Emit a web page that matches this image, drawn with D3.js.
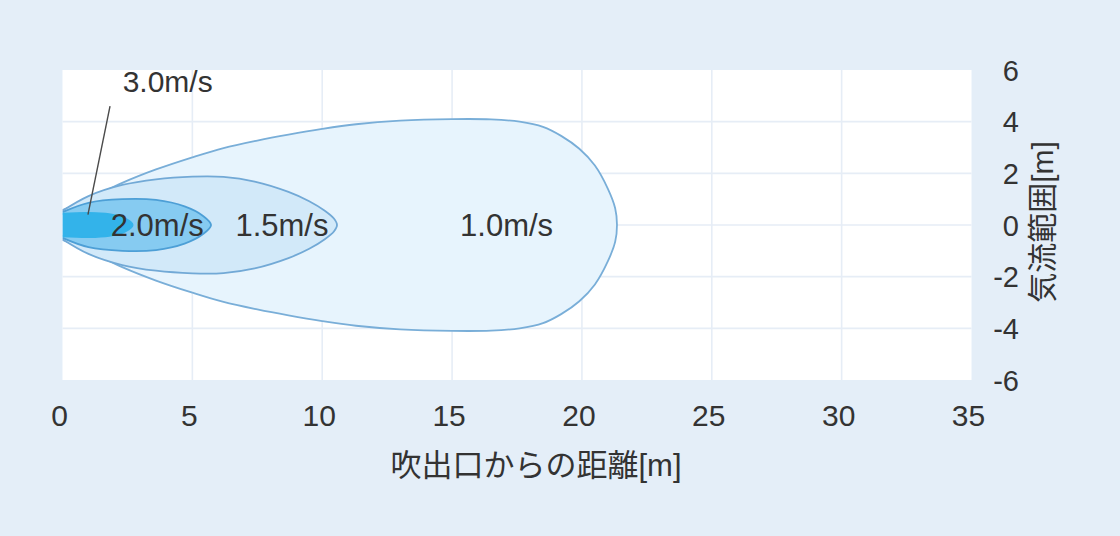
<!DOCTYPE html>
<html><head><meta charset="utf-8">
<script src="https://cdn.jsdelivr.net/npm/d3@7"></script>
<style>
html,body{margin:0;padding:0;background:#e4eef8;}
svg{display:block;}
text{font-family:"Liberation Sans","Noto Sans CJK JP",sans-serif;fill:#333333;}
</style></head>
<body>
<svg id="chart" width="1120" height="536"></svg>
<script>
// ---- data ----
const xTicks = [0, 5, 10, 15, 20, 25, 30, 35];
const yTicks = [6, 4, 2, 0, -2, -4, -6];
const xTitle = "吹出口からの距離[m]";
const yTitle = "気流範囲[m]";
const speedLabels = ["1.0m/s", "1.5m/s", "2.0m/s", "3.0m/s"];
// upper half outlines [distance m, half-width m]; lower half mirrored
const contour10 = [[0,0.58],[1,1.0],[2.3,1.63],[3.6,2.15],[5,2.62],[6.2,2.98],[7.5,3.27],[8.7,3.5],[10,3.72],[11.3,3.9],[13,4.04],[15,4.1],[16.5,4.09],[17.6,4.0],[18.5,3.8],[19.2,3.45],[19.9,2.95],[20.5,2.3],[21.0,1.4],[21.28,0.65],[21.35,0]];
const contour15 = [[0,0.55],[1,1.12],[2.3,1.55],[3.6,1.77],[5,1.87],[6.2,1.86],[7.4,1.68],[8.7,1.28],[9.5,0.92],[10.1,0.55],[10.45,0.25],[10.57,0]];
const contour20 = [[0,0.5],[1,0.86],[2.3,1.0],[3.6,0.97],[4.7,0.72],[5.4,0.36],[5.72,0]];
const contour30 = [[0,0.44],[1,0.47],[1.8,0.42],[2.4,0.26],[2.7,0]];
const labelPos = [[17.1,0],[8.45,0],[3.65,0],[4.05,5.55]];
const leader = [[0.98,0.4],[1.83,4.6]];

// ---- layout ----
const svg = d3.select("#chart");
const W = 1120, H = 536;
const plot = {left: 62.5, right: 971.5, top: 70, bottom: 380};
const x = d3.scaleLinear().domain([0, 35]).range([plot.left, plot.right]);
const y = d3.scaleLinear().domain([-6, 6]).range([plot.bottom, plot.top]);

svg.append("rect").attr("width", W).attr("height", H).attr("fill", "#e4eef8");
svg.append("rect").attr("x", plot.left).attr("y", plot.top)
  .attr("width", plot.right - plot.left).attr("height", plot.bottom - plot.top)
  .attr("fill", "#ffffff");

svg.append("defs").append("clipPath").attr("id", "clip")
  .append("rect").attr("x", plot.left).attr("y", plot.top)
  .attr("width", plot.right - plot.left).attr("height", plot.bottom - plot.top);

// grid
const grid = svg.append("g");
grid.selectAll("line.v").data(xTicks.slice(1, -1)).join("line")
  .attr("x1", d => x(d)).attr("x2", d => x(d))
  .attr("y1", plot.top).attr("y2", plot.bottom)
  .attr("stroke", "#e6edf6").attr("stroke-width", 1.6);
grid.selectAll("line.h").data(yTicks.slice(1, -1)).join("line")
  .attr("x1", plot.left).attr("x2", plot.right)
  .attr("y1", d => y(d)).attr("y2", d => y(d))
  .attr("stroke", "#e6edf6").attr("stroke-width", 1.6);

// contours
const full = up => up.concat(up.slice(0, -1).reverse().map(([a, b]) => [a, -b]));
const line = d3.line().x(d => x(d[0])).y(d => y(d[1])).curve(d3.curveCatmullRom.alpha(0.5));
const shapes = [
  {pts: contour10, fill: "#e7f4fd", stroke: "#79aed8"},
  {pts: contour15, fill: "#d2e9f9", stroke: "#72a9d6"},
  {pts: contour20, fill: "#86cbf1", stroke: "#4d9fd6"},
  {pts: contour30, fill: "#33b3ea", stroke: "#33b3ea"}
];
const g = svg.append("g").attr("clip-path", "url(#clip)");
shapes.forEach(s => {
  const p = full(s.pts);
  g.append("path").attr("d", line(p) + "Z").attr("fill", s.fill).attr("stroke", "none");
  g.append("path").attr("d", line(p)).attr("fill", "none")
    .attr("stroke", s.stroke).attr("stroke-width", 1.8);
});

// leader line for 3.0m/s
svg.append("line")
  .attr("x1", x(leader[0][0])).attr("y1", y(leader[0][1]))
  .attr("x2", x(leader[1][0])).attr("y2", y(leader[1][1]))
  .attr("stroke", "#4a4a4a").attr("stroke-width", 1.4);

// speed labels
const lblSize = [31, 31, 31, 30];
speedLabels.forEach((t, i) => {
  svg.append("text")
    .attr("x", x(labelPos[i][0]))
    .attr("y", y(labelPos[i][1]) + lblSize[i] * 0.36)
    .attr("text-anchor", "middle")
    .attr("font-size", lblSize[i])
    .text(t);
});

// x axis labels
svg.append("g").selectAll("text").data(xTicks).join("text")
  .attr("x", d => x(d) - 3).attr("y", 426)
  .attr("text-anchor", "middle").attr("font-size", 30)
  .text(d => d);

// y axis labels (right)
svg.append("g").selectAll("text").data(yTicks).join("text")
  .attr("x", 1019).attr("y", d => y(d) + 10.5)
  .attr("text-anchor", "end").attr("font-size", 29)
  .text(d => d);

// titles
svg.append("text").attr("x", 536).attr("y", 476)
  .attr("text-anchor", "middle").attr("font-size", 31)
  .text(xTitle);
svg.append("text")
  .attr("transform", "translate(1053," + 222 + ") rotate(-90)")
  .attr("text-anchor", "middle").attr("font-size", 30)
  .text(yTitle);
</script>
</body></html>
